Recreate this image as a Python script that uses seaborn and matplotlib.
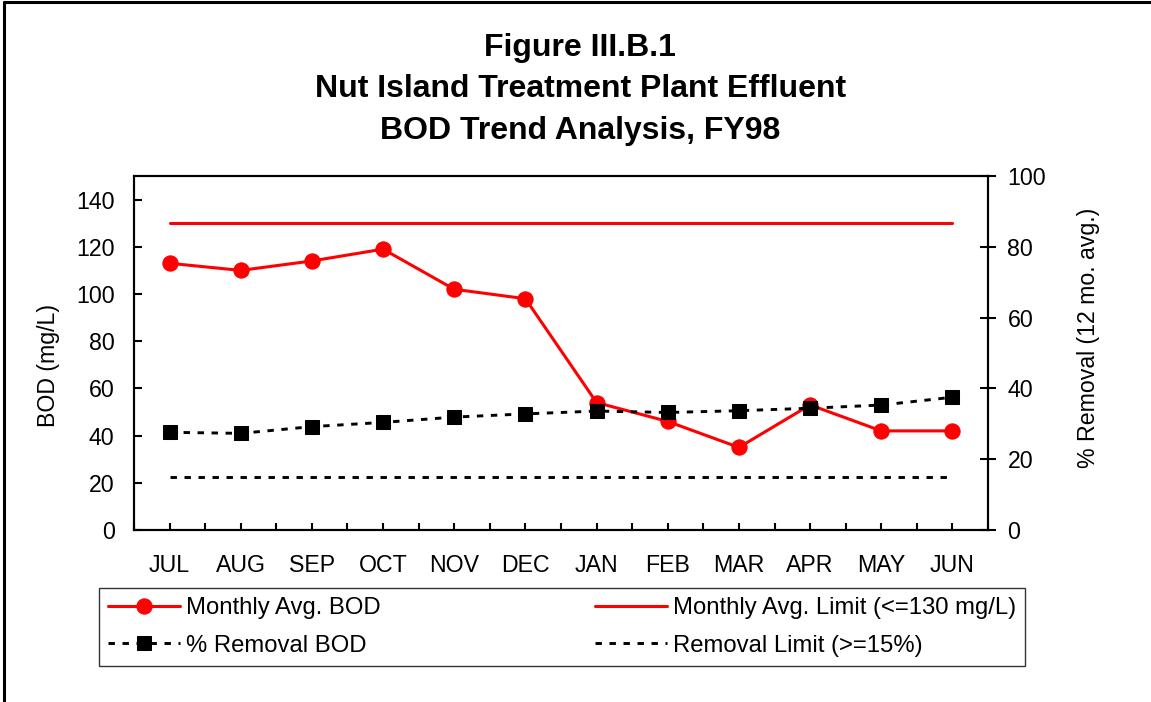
import matplotlib
matplotlib.use("Agg")
import matplotlib.pyplot as plt
from matplotlib.lines import Line2D
from matplotlib.ticker import MultipleLocator
import pandas as pd
import seaborn as sns

# data
months = ["JUL", "AUG", "SEP", "OCT", "NOV", "DEC", "JAN", "FEB", "MAR", "APR", "MAY", "JUN"]
bod_monthly = [113, 110, 114, 119, 102, 98, 54, 46, 35, 53, 42, 42]
removal_pct = [27.6, 27.3, 29.2, 30.4, 31.9, 32.8, 33.6, 33.2, 33.7, 34.4, 35.3, 37.5]
bod_limit = 130
removal_limit = 15

df = pd.DataFrame({
    "pos": range(len(months)),
    "month": months,
    "bod": bod_monthly,
    "removal": removal_pct,
    "bod_limit": [bod_limit] * len(months),
    "removal_limit": [removal_limit] * len(months),
})

sns.set_style("white")
plt.rcParams["font.family"] = ["Liberation Sans", "DejaVu Sans"]
plt.rcParams["text.color"] = "black"
plt.rcParams["axes.labelcolor"] = "black"
plt.rcParams["xtick.color"] = "black"
plt.rcParams["ytick.color"] = "black"

FS = 16.7
dash = (0, (2.2, 2.6))

fig = plt.figure(figsize=(11.51, 7.02), dpi=100)
ax = fig.add_axes([0.1164, 0.245, 0.742, 0.5043])
ax2 = ax.twinx()

sns.lineplot(data=df, x="pos", y="bod_limit", ax=ax, color="red", linewidth=2.2, legend=False)
sns.lineplot(data=df, x="pos", y="bod", ax=ax, color="red", linewidth=2.2,
             marker="o", markersize=11, markeredgecolor="red", legend=False)
sns.lineplot(data=df, x="pos", y="removal_limit", ax=ax2, color="black", linewidth=2.1,
             linestyle=dash, legend=False)
sns.lineplot(data=df, x="pos", y="removal", ax=ax2, color="black", linewidth=2.1,
             linestyle=dash, marker="s", markersize=10.5, markeredgecolor="black", legend=False)

# axes setup
ax.set_xlim(-0.5, 11.5)
ax.set_ylim(0, 150)
ax2.set_ylim(0, 100)
ax.set_xticks(range(len(months)))
ax.set_xticklabels(months)
ax.xaxis.set_minor_locator(MultipleLocator(0.5))
ax.set_yticks(range(0, 141, 20))
ax2.set_yticks(range(0, 101, 20))

ax.tick_params(axis="x", which="both", direction="in", length=5, width=1.5, pad=17.5,
               labelsize=FS, bottom=True, top=False)
ax.tick_params(axis="y", direction="in", length=6, width=1.5, pad=14,
               labelsize=FS, left=True, right=False)
ax2.tick_params(axis="y", direction="inout", length=12, width=1.5, pad=8,
                labelsize=FS, right=True)

ax.set_xlabel("")
ax2.set_xlabel("")
ax.set_ylabel("BOD (mg/L)", fontsize=FS)
ax2.set_ylabel("% Removal (12 mo. avg.)", fontsize=FS)
ax.yaxis.set_label_coords(-0.0866, 0.466)
ax2.yaxis.set_label_coords(1.104, 0.542)

for a in (ax, ax2):
    for sp in a.spines.values():
        sp.set_color("black")
        sp.set_linewidth(1.5)
ax.grid(False)
ax2.grid(False)

fig.text(0.504, 0.873, "Figure III.B.1\nNut Island Treatment Plant Effluent\nBOD Trend Analysis, FY98",
         ha="center", va="center", fontsize=23, fontweight="bold", linespacing=1.5)

# legend under the plot, two columns
l1 = ax.get_lines()
l2 = ax2.get_lines()
handles = [l1[1], l2[1], l1[0], l2[0]]
labels = ["Monthly Avg. BOD", "% Removal BOD", "Monthly Avg. Limit (<=130 mg/L)", "Removal Limit (>=15%)"]
leg = fig.legend(handles, labels, ncol=2, loc="upper left", bbox_to_anchor=(0.086, 0.1624),
                 fontsize=17.2, frameon=True, fancybox=False, shadow=False, borderaxespad=0,
                 borderpad=0.38, handlelength=3.0, handletextpad=0.25, columnspacing=9.0,
                 labelspacing=0.66, numpoints=1)
leg.get_frame().set_edgecolor("black")
leg.get_frame().set_linewidth(1)

# outer frame (only top and left edges show)
fig.add_artist(Line2D([0.0035, 1], [0.997, 0.997], transform=fig.transFigure, color="black", lw=2.2))
fig.add_artist(Line2D([0.0035, 0.0035], [0, 0.997], transform=fig.transFigure, color="black", lw=2.2))

fig.savefig("out.png", dpi=100)
